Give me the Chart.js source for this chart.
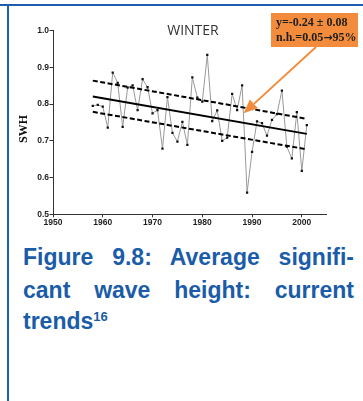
<!DOCTYPE html>
<html><head><meta charset="utf-8">
<script src="https://cdn.jsdelivr.net/npm/chart.js@4.4.1/dist/chart.umd.min.js"></script>
<style>
html,body{margin:0;padding:0;background:#fff;width:363px;height:401px;overflow:hidden;}
#wrap{position:relative;width:363px;height:401px;}
#topb{position:absolute;left:0;top:4px;width:363px;height:2px;background:#1d5fae;}
#leftb{position:absolute;left:7px;top:4px;width:2px;height:397px;background:#1d5fae;}
#cv{position:absolute;left:0;top:0;}
#title{position:absolute;left:143px;width:100px;top:20px;text-align:center;font:14px 'Open Sans';color:#333;line-height:20px;}
#box{position:absolute;left:271px;top:13px;width:87px;height:34px;background:#f28c3c;font:bold 12px 'Liberation Serif';color:#1e1e1e;line-height:15px;box-sizing:border-box;padding:2px 0 0 5px;white-space:nowrap;overflow:hidden;}
#box .ar{font:bold 11px 'DejaVu Sans';}
.cap{position:absolute;left:23px;width:331px;font:bold 23px 'Liberation Sans';color:#1b5ca9;line-height:32px;}
.just{text-align:justify;text-align-last:justify;}
sup{font-size:13px;line-height:1;vertical-align:8px;}
</style></head>
<body><div id="wrap">
<div id="topb"></div><div id="leftb"></div>
<canvas id="cv" width="363" height="235"></canvas>
<div id="title">WINTER</div>
<div id="box">y=-0.24 ± 0.08<br>n.h.=0.05<span class="ar">→</span>95%</div>
<div class="cap just" style="top:241px">Figure 9.8: Average signifi-</div>
<div class="cap just" style="top:274px">cant wave height: current</div>
<div class="cap" style="top:305px">trends<sup>16</sup></div>
</div>
<script>
const years = [1958,1959,1960,1961,1962,1963,1964,1965,1966,1967,1968,1969,1970,1971,1972,1973,1974,1975,1976,1977,1978,1979,1980,1981,1982,1983,1984,1985,1986,1987,1988,1989,1990,1991,1992,1993,1994,1995,1996,1997,1998,1999,2000,2001];
const swh = [0.795,0.798,0.793,0.736,0.886,0.858,0.738,0.845,0.851,0.784,0.868,0.846,0.775,0.784,0.679,0.819,0.722,0.698,0.752,0.689,0.873,0.818,0.807,0.934,0.754,0.783,0.700,0.709,0.828,0.784,0.851,0.559,0.670,0.753,0.748,0.714,0.757,0.773,0.837,0.684,0.652,0.778,0.618,0.743];
const trendYears = [1958, 2001];
const trendMid = [0.821, 0.719];
const trendUpper = [0.864, 0.760];
const trendLower = [0.779, 0.677];
const xTicks = [1950,1960,1970,1980,1990,2000];
const yTicks = [0.5,0.6,0.7,0.8,0.9,1.0];
const arrowTip = {x: 1988.3, y: 0.775};

const pts = (xs, ys) => xs.map((x,i)=>({x:x, y:ys[i]}));
const tickFont = {family:'Liberation Sans', weight:'bold', size:8.5};

const overlay = {
  id:'overlay',
  afterDraw(chart){
    const ctx = chart.ctx;
    ctx.save();
    ctx.translate(23.5,129);
    ctx.rotate(-Math.PI/2);
    ctx.font = 'bold 12px "Liberation Serif"';
    ctx.fillStyle = '#111';
    ctx.textAlign = 'center';
    ctx.textBaseline = 'middle';
    ctx.fillText('SWH',0,0);
    ctx.restore();
    const tx = chart.scales.x.getPixelForValue(arrowTip.x);
    const ty = chart.scales.y.getPixelForValue(arrowTip.y);
    const sx = 316, sy = 47;
    const ang = Math.atan2(ty-sy, tx-sx);
    const hl = 14, hw = 6;
    const bx = tx - hl*Math.cos(ang), by = ty - hl*Math.sin(ang);
    ctx.save();
    ctx.strokeStyle = '#f28c3c';
    ctx.fillStyle = '#f28c3c';
    ctx.lineWidth = 2;
    ctx.beginPath(); ctx.moveTo(sx,sy); ctx.lineTo(bx,by); ctx.stroke();
    ctx.beginPath();
    ctx.moveTo(tx,ty);
    ctx.lineTo(bx + hw*Math.sin(ang), by - hw*Math.cos(ang));
    ctx.lineTo(bx - hw*Math.sin(ang), by + hw*Math.cos(ang));
    ctx.closePath(); ctx.fill();
    ctx.restore();
  }
};

new Chart(document.getElementById('cv'), {
  type:'line',
  data:{datasets:[
    {data:pts(trendYears,trendMid), borderColor:'#000', borderWidth:2, pointRadius:0, order:1},
    {data:pts(trendYears,trendUpper), borderColor:'#000', borderWidth:2, borderDash:[5,2.5], pointRadius:0, order:1},
    {data:pts(trendYears,trendLower), borderColor:'#000', borderWidth:2, borderDash:[5,2.5], pointRadius:0, order:1},
    {data:pts(years,swh), borderColor:'#999', borderWidth:1, pointStyle:'rect', pointRadius:1.6, pointBackgroundColor:'#111', pointBorderColor:'#111', pointBorderWidth:0, order:2}
  ]},
  options:{
    responsive:false, animation:false, devicePixelRatio:1,
    layout:{padding:{top:30.7, right:36.3, left:0, bottom:0}},
    plugins:{legend:{display:false}, tooltip:{enabled:false}},
    scales:{
      x:{type:'linear', min:1950, max:2005,
        afterBuildTicks:s=>{s.ticks = xTicks.map(v=>({value:v}));},
        afterFit:s=>{s.height = 20.7;},
        ticks:{font:tickFont, color:'#1e1e1e', padding:0, maxRotation:0, autoSkip:false, callback:v=>String(v)},
        grid:{drawOnChartArea:false, tickLength:3, color:'#333', lineWidth:1},
        border:{color:'#333', width:1}},
      y:{type:'linear', min:0.5, max:1.0,
        afterBuildTicks:s=>{s.ticks = yTicks.map(v=>({value:v}));},
        afterFit:s=>{s.width = 53;},
        ticks:{font:tickFont, color:'#1e1e1e', padding:0.5, autoSkip:false, callback:v=>Number(v).toFixed(1)},
        grid:{drawOnChartArea:false, tickLength:3.5, color:'#333', lineWidth:1},
        border:{color:'#333', width:1}}
    }
  },
  plugins:[overlay]
});
</script>
</body></html>
